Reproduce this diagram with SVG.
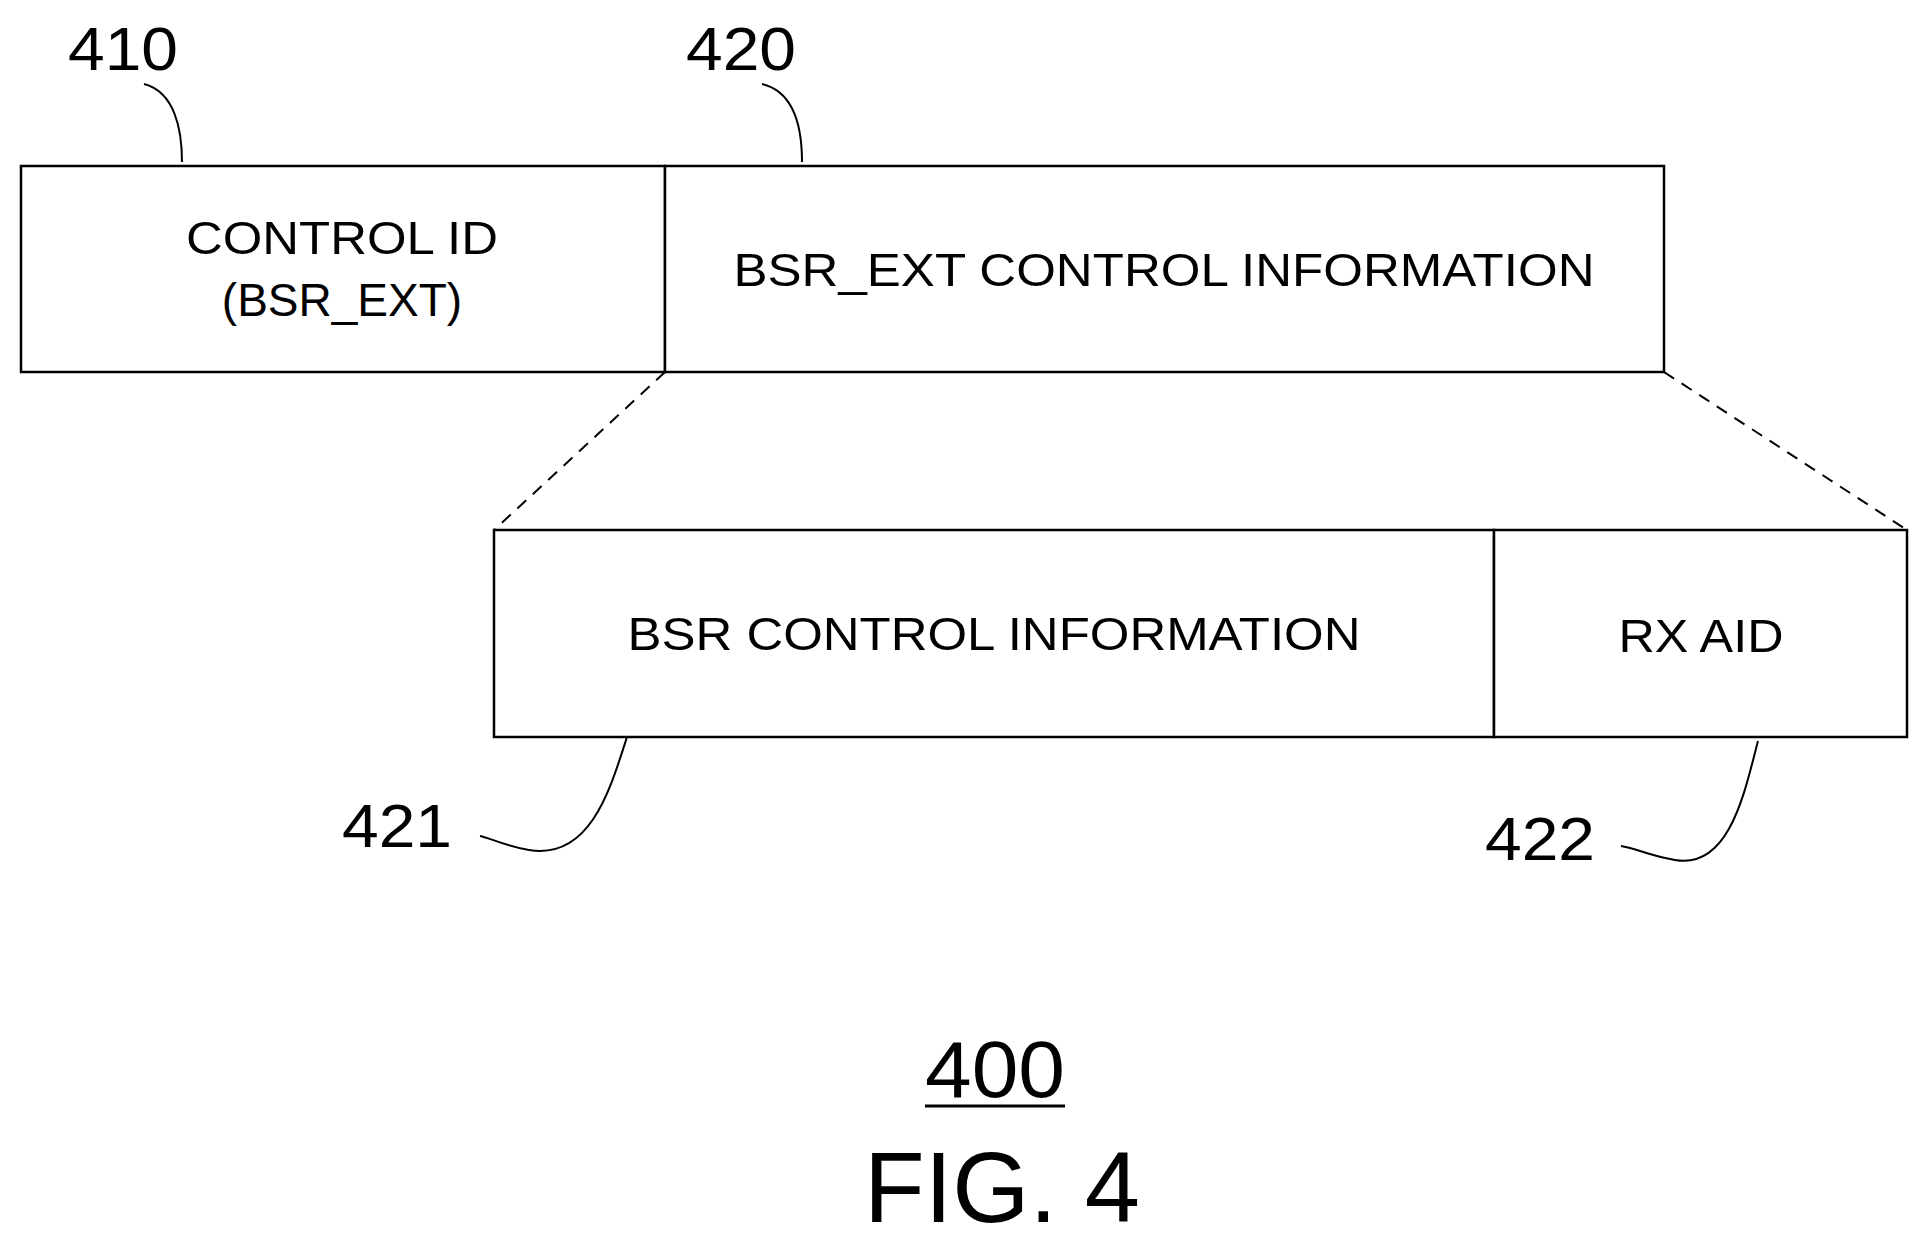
<svg xmlns="http://www.w3.org/2000/svg" width="1928" height="1248" viewBox="0 0 1928 1248">
<style>
.b{fill:#fff;stroke:#000;stroke-width:2.5}
.t{font-family:"Liberation Sans",Arial,sans-serif;font-size:46px;text-anchor:middle;fill:#000}
.n{font-family:"Liberation Sans",Arial,sans-serif;font-size:62px;text-anchor:middle;fill:#000}
.l{fill:none;stroke:#000;stroke-width:2}
.d{fill:none;stroke:#000;stroke-width:2;stroke-dasharray:12 9}
</style>
<rect width="1928" height="1248" fill="#fff"/>
<g id="n410"><rect class="b" x="21" y="166" width="644" height="206"/>
<text class="t" x="342" y="254" textLength="312" lengthAdjust="spacingAndGlyphs">CONTROL ID</text><text class="t" x="342" y="316">(BSR_EXT)</text></g>
<g id="n420"><rect class="b" x="665" y="166" width="999" height="206"/>
<text class="t" x="1164" y="286" textLength="861" lengthAdjust="spacingAndGlyphs">BSR_EXT CONTROL INFORMATION</text></g>
<g id="n421"><rect class="b" x="494" y="530" width="1000" height="207"/>
<text class="t" x="994" y="650" textLength="733" lengthAdjust="spacingAndGlyphs">BSR CONTROL INFORMATION</text></g>
<g id="n422"><rect class="b" x="1494" y="530" width="413" height="207"/>
<text class="t" x="1701" y="652" textLength="165" lengthAdjust="spacingAndGlyphs">RX AID</text></g>
<g id="labels">
<text class="n" x="123" y="70" textLength="110" lengthAdjust="spacingAndGlyphs">410</text>
<text class="n" x="741" y="70" textLength="110" lengthAdjust="spacingAndGlyphs">420</text>
<text class="n" x="397" y="847" textLength="110" lengthAdjust="spacingAndGlyphs">421</text>
<text class="n" x="1540" y="860" textLength="110" lengthAdjust="spacingAndGlyphs">422</text>
<text class="n" x="995" y="1097" style="font-size:80px" textLength="140" lengthAdjust="spacingAndGlyphs">400</text>
<line x1="925" y1="1106" x2="1065" y2="1106" stroke="#000" stroke-width="3"/>
<text class="n" x="1002" y="1222" style="font-size:100px" textLength="276" lengthAdjust="spacingAndGlyphs">FIG. 4</text>
</g>
<g id="connectors">
<path class="l" d="M144,84 C175,92 182,130 182,162"/>
<path class="l" d="M762,84 C795,92 802,130 802,162"/>
<path class="l" d="M627,737 C610,790 590,860 529,850 C505,846 490,838 480,836"/>
<path class="l" d="M1758,741 C1745,790 1730,870 1675,860 C1650,856 1635,848 1621,846"/>
<path class="d" d="M665,372 L494,530"/>
<path class="d" d="M1664,372 L1907,530"/>
</g>
</svg>
